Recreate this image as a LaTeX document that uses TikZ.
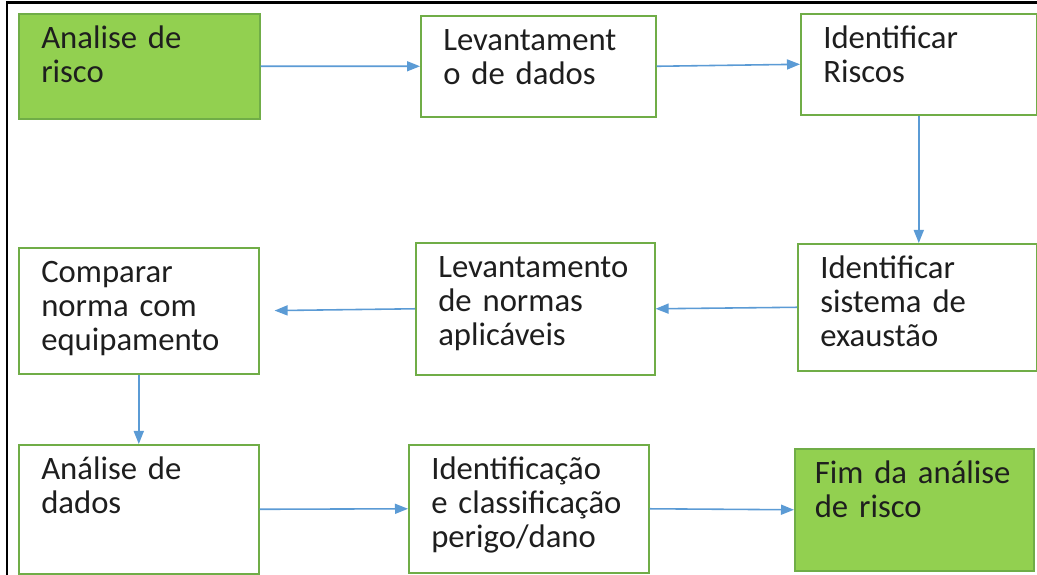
\documentclass[tikz,border=0pt]{standalone}
\usepackage{fontspec}
\setmainfont{Carlito}
\usetikzlibrary{arrows.meta,positioning}
\definecolor{stepgreen}{HTML}{92D050}
\definecolor{edgegreen}{HTML}{70AD47}
\definecolor{flowblue}{HTML}{5B9BD5}
\definecolor{darktext}{HTML}{1E1E1E}
\tikzset{
  stagebox/.style={draw=edgegreen, line width=0.9pt, fill=white, anchor=north west,
    align=left, inner xsep=0.45cm, inner ysep=0pt, text height=0.70cm, text=darktext,
    font=\fontsize{18.6}{19.4}\selectfont},
  startend/.style={stagebox, fill=stepgreen},
  flow/.style={draw=flowblue, line width=0.9pt, -{Triangle[length=0.26cm,width=0.2cm]}}
}

\begin{document}
\begin{tikzpicture}
\useasboundingbox (0,0) rectangle (20.74,11.5);
\fill[white] (0,0) rectangle (20.74,11.5);
% outer frame (only top and left edges are visible)
\draw[black, line width=1.7pt] (0.14,0) |- (20.74,11.44);

% first row
\node[startend, text width=3.92cm, text depth=1.40cm] (risk) at (0.36,11.24) {Analise de\\risco};
\node[stagebox, text width=3.80cm, text depth=1.32cm] (dados) at (8.40,11.20) {Levantament\\o de dados};
\node[stagebox, text width=3.82cm, text depth=1.32cm] (riscos) at (16.00,11.24) {Identificar\\Riscos};

% second row
\node[stagebox, text width=3.88cm, text depth=1.84cm] (exaust) at (15.94,6.64) {Identificar\\sistema de\\exaustão};
\node[stagebox, text width=3.88cm, text depth=1.94cm] (normas) at (8.30,6.66) {Levantamento\\de normas\\aplicáveis};
\node[stagebox, text width=3.90cm, text depth=1.82cm] (comparar) at (0.36,6.56) {Comparar\\norma com\\equipamento};

% third row
\node[stagebox, text width=3.90cm, text depth=1.88cm] (analise) at (0.36,2.62) {Análise de\\dados};
\node[stagebox, text width=3.90cm, text depth=1.86cm] (identif) at (8.16,2.62) {Identificação\\e classificação\\perigo/dano};
\node[startend, inner xsep=0.40cm, text width=3.98cm, text depth=1.74cm] (fim) at (15.88,2.54) {Fim da análise\\de risco};

% connectors
\draw[flow] (risk.east) -- (dados.west);
\draw[flow] (dados.east) -- (riscos.west);
\draw[flow] (riscos.south) -- (riscos.south |- exaust.north);
\draw[flow] (exaust.west) -- (normas.east);
\draw[flow, shorten >=0.3cm] (normas.west) -- (comparar.east);
\draw[flow] (comparar.south) -- (analise.north);
\draw[flow] (analise.east) -- (identif.west);
\draw[flow] (identif.east) -- (fim.west);
\end{tikzpicture}
\end{document}
